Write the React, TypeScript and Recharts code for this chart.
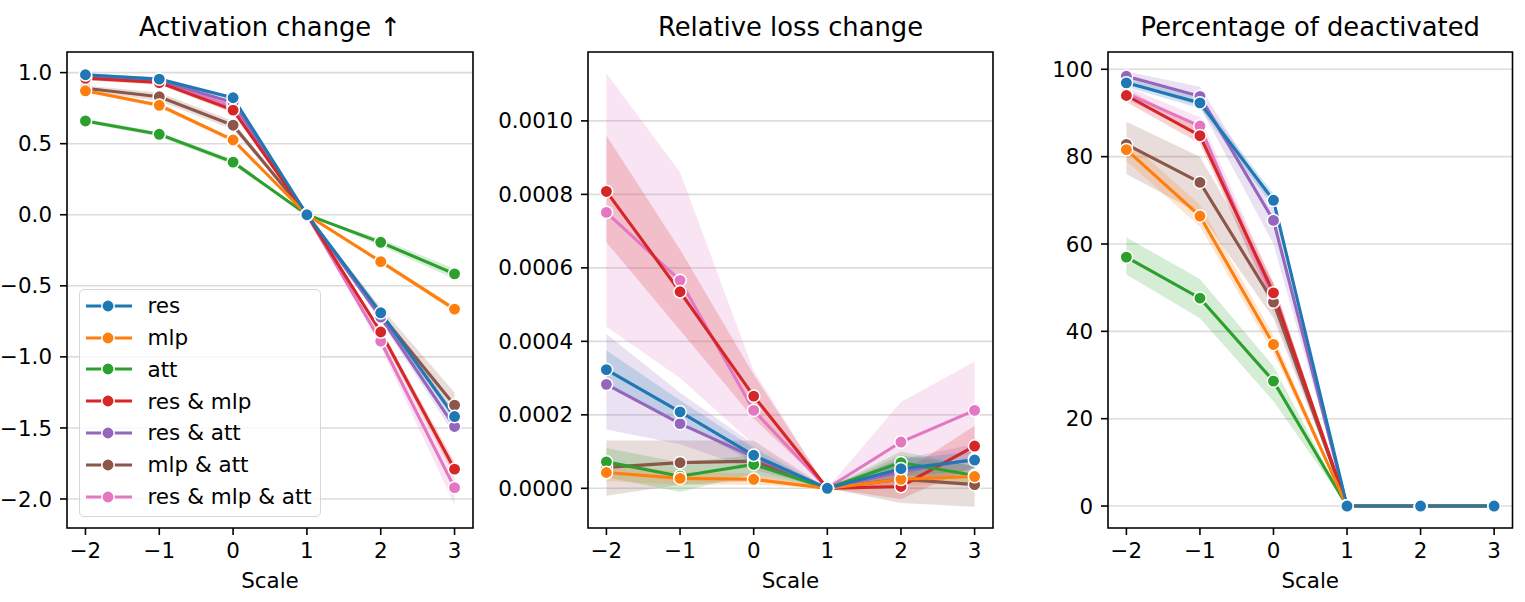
import React from 'react';
import {
  ComposedChart,
  Line,
  Area,
  XAxis,
  YAxis,
  CartesianGrid,
  ReferenceArea,
} from 'recharts';

const FONT = '"DejaVu Sans", sans-serif';

const scales = [-2, -1, 0, 1, 2, 3];
const seriesNames = ['res', 'mlp', 'att', 'res & mlp', 'res & att', 'mlp & att', 'res & mlp & att'];
const seriesColors = ['#1f77b4', '#ff7f0e', '#2ca02c', '#d62728', '#9467bd', '#8c564b', '#e377c2'];

// Activation change (one row per series, one value per scale)
const actMean = [
  [0.985, 0.954, 0.823, 0, -0.69, -1.42],
  [0.872, 0.77, 0.526, 0, -0.33, -0.664],
  [0.66, 0.566, 0.37, 0, -0.194, -0.416],
  [0.96, 0.93, 0.736, 0, -0.825, -1.79],
  [0.975, 0.945, 0.79, 0, -0.72, -1.49],
  [0.89, 0.83, 0.63, 0, -0.7, -1.34],
  [0.97, 0.94, 0.76, 0, -0.89, -1.92],
];
const actLow = [
  [0.975, 0.945, 0.81, 0, -0.71, -1.45],
  [0.86, 0.755, 0.51, 0, -0.345, -0.685],
  [0.645, 0.55, 0.35, 0, -0.22, -0.45],
  [0.945, 0.915, 0.715, 0, -0.85, -1.84],
  [0.96, 0.93, 0.77, 0, -0.75, -1.55],
  [0.87, 0.8, 0.6, 0, -0.75, -1.43],
  [0.955, 0.92, 0.735, 0, -0.93, -2.04],
];
const actHigh = [
  [0.995, 0.965, 0.835, 0, -0.67, -1.39],
  [0.885, 0.785, 0.54, 0, -0.315, -0.645],
  [0.675, 0.58, 0.39, 0, -0.17, -0.38],
  [0.975, 0.945, 0.755, 0, -0.8, -1.74],
  [0.99, 0.96, 0.81, 0, -0.69, -1.43],
  [0.91, 0.86, 0.66, 0, -0.65, -1.25],
  [0.985, 0.96, 0.785, 0, -0.85, -1.82],
];

// Relative loss change
const lossMean = [
  [3.23e-4, 2.08e-4, 0.9e-4, 0, 0.535e-4, 0.77e-4],
  [0.43e-4, 0.27e-4, 0.245e-4, 0, 0.245e-4, 0.32e-4],
  [0.72e-4, 0.33e-4, 0.65e-4, 0, 0.7e-4, 0.35e-4],
  [8.08e-4, 5.35e-4, 2.51e-4, 0, 0.05e-4, 1.15e-4],
  [2.83e-4, 1.76e-4, 0.85e-4, 0, 0.45e-4, 0.8e-4],
  [0.57e-4, 0.7e-4, 0.74e-4, 0, 0.25e-4, 0.1e-4],
  [7.51e-4, 5.66e-4, 2.12e-4, 0, 1.26e-4, 2.12e-4],
];
const lossLow = [
  [2.8e-4, 1.8e-4, 0.7e-4, 0, 0.3e-4, 0.5e-4],
  [0.2e-4, 0.1e-4, 0.1e-4, 0, 0.1e-4, 0.1e-4],
  [0.3e-4, -0.1e-4, 0.4e-4, 0, 0.4e-4, 0.1e-4],
  [6.7e-4, 4.3e-4, 1.9e-4, 0, -0.3e-4, 0.6e-4],
  [1.6e-4, 1.2e-4, 0.5e-4, 0, 0.1e-4, 0.4e-4],
  [-0.2e-4, 0.1e-4, 0.2e-4, 0, -0.4e-4, -0.5e-4],
  [4.4e-4, 3.0e-4, 1.2e-4, 0, 0.3e-4, 1.0e-4],
];
const lossHigh = [
  [3.75e-4, 2.4e-4, 1.1e-4, 0, 0.8e-4, 1.0e-4],
  [0.65e-4, 0.45e-4, 0.4e-4, 0, 0.4e-4, 0.5e-4],
  [1.1e-4, 0.7e-4, 0.9e-4, 0, 1.0e-4, 0.6e-4],
  [9.6e-4, 6.5e-4, 3.1e-4, 0, 0.4e-4, 1.7e-4],
  [4.2e-4, 2.6e-4, 1.2e-4, 0, 0.8e-4, 1.2e-4],
  [1.3e-4, 1.3e-4, 1.3e-4, 0, 0.9e-4, 0.6e-4],
  [11.3e-4, 8.6e-4, 3.2e-4, 0, 2.35e-4, 3.45e-4],
];

// Percentage of deactivated
const pctMean = [
  [96.9, 92.3, 70.0, 0, 0, 0],
  [81.6, 66.4, 37.0, 0, 0, 0],
  [57.0, 47.6, 28.6, 0, 0, 0],
  [94.0, 84.8, 48.8, 0, 0, 0],
  [98.4, 93.8, 65.4, 0, 0, 0],
  [82.8, 74.1, 46.7, 0, 0, 0],
  [94.5, 87.0, 47.5, 0, 0, 0],
];
const pctLow = [
  [96, 91, 68.5, 0, 0, 0],
  [79, 64, 35, 0, 0, 0],
  [53, 43, 24, 0, 0, 0],
  [92.5, 83, 46, 0, 0, 0],
  [97, 91.5, 60, 0, 0, 0],
  [76, 67, 43, 0, 0, 0],
  [93, 85, 44, 0, 0, 0],
];
const pctHigh = [
  [98, 93.5, 71.5, 0, 0, 0],
  [84, 69, 39, 0, 0, 0],
  [61.5, 52, 32, 0, 0, 0],
  [95.5, 86.5, 51, 0, 0, 0],
  [99.5, 96, 69, 0, 0, 0],
  [88, 80, 51, 0, 0, 0],
  [96, 89, 51, 0, 0, 0],
];

const actTicks = [-2, -1.5, -1, -0.5, 0, 0.5, 1];
const lossTicks = [0, 0.0002, 0.0004, 0.0006, 0.0008, 0.001];
const pctTicks = [0, 20, 40, 60, 80, 100];

const minus = (s: string) => s.replace('-', '\u2212');

function buildRows(mean: number[][], low: number[][], high: number[][]) {
  return scales.map((x, i) => {
    const row: Record<string, any> = { x };
    seriesNames.forEach((_, j) => {
      row['v' + j] = mean[j][i];
      row['b' + j] = [low[j][i], high[j][i]];
    });
    return row;
  });
}

const X_DOMAIN: [number, number] = [-2.25, 3.25];
const CHART_H = 602;
const PLOT_TOP = 52;
const PLOT_BOTTOM = 528;
const TICK_FS = 21.4;

interface PanelProps {
  title: string;
  rows: Record<string, any>[];
  yDomain: [number, number];
  yTicks: number[];
  fmt: (v: number) => string;
  plotLeft: number;
  plotRight: number;
  yAxisWidth: number;
}

function Panel({ title, rows, yDomain, yTicks, fmt, plotLeft, plotRight, yAxisWidth }: PanelProps) {
  const marginRight = 10;
  const plotW = plotRight - plotLeft;
  const width = yAxisWidth + plotW + marginRight;
  const tickStyle = { fill: '#000', fontSize: TICK_FS, fontFamily: FONT };
  const order = seriesNames.map((_, j) => j).reverse();

  return (
    <>
      <div
        style={{
          position: 'absolute',
          left: plotLeft,
          width: plotW,
          top: 15,
          textAlign: 'center',
          fontSize: 25.8,
          lineHeight: 1,
          whiteSpace: 'nowrap',
        }}
      >
        {title}
      </div>
      <div style={{ position: 'absolute', left: plotLeft - yAxisWidth, top: 0 }}>
        <ComposedChart
          width={width}
          height={CHART_H}
          data={rows}
          margin={{ top: PLOT_TOP, right: marginRight, left: 0, bottom: 0 }}
        >
          <CartesianGrid vertical={false} stroke="#dcdcdc" strokeWidth={1.6} />
          <XAxis
            dataKey="x"
            type="number"
            domain={X_DOMAIN}
            ticks={scales}
            allowDataOverflow
            height={CHART_H - PLOT_BOTTOM}
            axisLine={false}
            tickLine={{ stroke: '#000', strokeWidth: 1.6 }}
            tickSize={7}
            tickMargin={8}
            tick={tickStyle}
            tickFormatter={(v: number) => minus(String(v))}
            interval={0}
          />
          <YAxis
            type="number"
            domain={yDomain}
            ticks={yTicks}
            allowDataOverflow
            width={yAxisWidth}
            axisLine={false}
            tickLine={{ stroke: '#000', strokeWidth: 1.6 }}
            tickSize={7}
            tickMargin={8}
            tick={tickStyle}
            tickFormatter={fmt}
            interval={0}
          />
          {order.map((j) => (
            <Area
              key={'b' + j}
              type="linear"
              dataKey={'b' + j}
              stroke="none"
              fill={seriesColors[j]}
              fillOpacity={0.2}
              dot={false}
              activeDot={false}
              isAnimationActive={false}
            />
          ))}
          {order.map((j) => (
            <Line
              key={'v' + j}
              type="linear"
              dataKey={'v' + j}
              stroke={seriesColors[j]}
              strokeWidth={3.1}
              dot={{ r: 6.2, fill: seriesColors[j], stroke: '#fff', strokeWidth: 1.5 }}
              activeDot={false}
              isAnimationActive={false}
            />
          ))}
          <ReferenceArea
            x1={X_DOMAIN[0]}
            x2={X_DOMAIN[1]}
            y1={yDomain[0]}
            y2={yDomain[1]}
            fill="none"
            stroke="#000"
            strokeWidth={1.6}
            ifOverflow="visible"
          />
        </ComposedChart>
      </div>
      <div
        style={{
          position: 'absolute',
          left: plotLeft,
          width: plotW,
          top: 570,
          textAlign: 'center',
          fontSize: TICK_FS,
          lineHeight: 1,
        }}
      >
        Scale
      </div>
    </>
  );
}

function LegendBox() {
  return (
    <div
      style={{
        position: 'absolute',
        left: 79,
        top: 289,
        width: 240,
        height: 226,
        border: '1.5px solid #d6d6d6',
        borderRadius: 5,
        background: 'rgba(255,255,255,0.8)',
      }}
    >
      {seriesNames.map((name, j) => (
        <div
          key={name}
          style={{ display: 'flex', alignItems: 'center', height: 31.8, whiteSpace: 'nowrap' }}
        >
          <svg width={46} height={20} style={{ marginLeft: 5.5, marginRight: 16, flexShrink: 0 }}>
            <line x1={0} y1={10} x2={46} y2={10} stroke={seriesColors[j]} strokeWidth={3.1} />
            <circle cx={22} cy={10} r={6.2} fill={seriesColors[j]} stroke="#fff" strokeWidth={1.5} />
          </svg>
          <span style={{ fontSize: 21.5, lineHeight: 1 }}>{name}</span>
        </div>
      ))}
    </div>
  );
}

export default function App() {
  const actRows = buildRows(actMean, actLow, actHigh);
  const lossRows = buildRows(lossMean, lossLow, lossHigh);
  const pctRows = buildRows(pctMean, pctLow, pctHigh);

  return (
    <div
      style={{
        position: 'fixed',
        left: 0,
        top: 0,
        width: 1525,
        height: 602,
        background: '#fff',
        fontFamily: FONT,
        color: '#000',
        overflow: 'hidden',
      }}
    >
      <Panel
        title="Activation change ↑"
        rows={actRows}
        yDomain={[-2.204, 1.145]}
        yTicks={actTicks}
        fmt={(v) => minus(v.toFixed(1))}
        plotLeft={67}
        plotRight={473}
        yAxisWidth={67}
      />
      <Panel
        title="Relative loss change"
        rows={lossRows}
        yDomain={[-0.000108, 0.0011875]}
        yTicks={lossTicks}
        fmt={(v) => minus(v.toFixed(4))}
        plotLeft={588}
        plotRight={993}
        yAxisWidth={90}
      />
      <Panel
        title="Percentage of deactivated"
        rows={pctRows}
        yDomain={[-5.03, 103.96]}
        yTicks={pctTicks}
        fmt={(v) => String(v)}
        plotLeft={1108}
        plotRight={1512.5}
        yAxisWidth={60}
      />
      <LegendBox />
    </div>
  );
}
